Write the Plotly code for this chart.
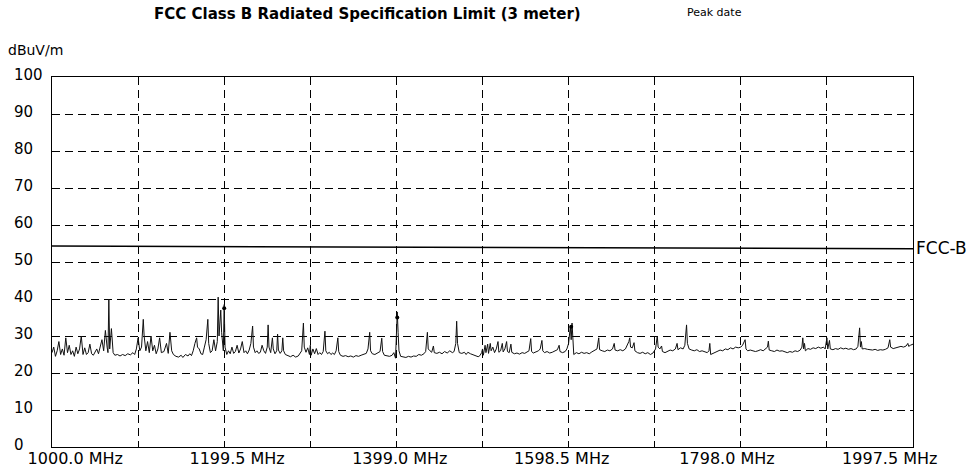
import plotly.graph_objects as go

# ---- data ----
freq_mhz = [
    1000, 1002, 1004, 1006, 1008, 1010, 1012, 1014, 1016, 1018,
    1020, 1022, 1024, 1026, 1028, 1030, 1032, 1034, 1036, 1038,
    1040, 1042, 1044, 1046, 1048, 1050, 1052, 1054, 1056, 1058,
    1060, 1062, 1064, 1065, 1066, 1067, 1069, 1071, 1073, 1076,
    1079, 1082, 1085, 1088, 1091, 1094, 1096, 1098, 1100, 1102,
    1104, 1106, 1107, 1109, 1111, 1113, 1115, 1117, 1119, 1121,
    1123, 1125, 1127, 1130, 1133, 1135, 1137, 1139, 1141, 1144,
    1147, 1150, 1152, 1155, 1158, 1160, 1162, 1164, 1166, 1168,
    1169, 1171, 1173, 1175, 1177, 1179, 1181, 1182, 1184, 1186,
    1188, 1190, 1192, 1193, 1194, 1196, 1197, 1199, 1200, 1201,
    1203, 1205, 1207, 1209, 1211, 1213, 1215, 1217, 1219, 1221,
    1223, 1225, 1227, 1229, 1231, 1233, 1234, 1236, 1238, 1240,
    1242, 1244, 1246, 1248, 1250, 1251, 1252, 1254, 1256, 1257,
    1259, 1261, 1262, 1263, 1265, 1267, 1268, 1269, 1271, 1274,
    1277, 1280, 1283, 1286, 1288, 1290, 1292, 1293, 1295, 1297,
    1299, 1300, 1301, 1303, 1305, 1307, 1309, 1311, 1313, 1315,
    1317, 1318, 1320, 1322, 1324, 1326, 1328, 1330, 1332, 1333,
    1335, 1338, 1341, 1344, 1347, 1350, 1353, 1356, 1359, 1362,
    1365, 1367, 1369, 1370, 1372, 1375, 1378, 1381, 1383, 1384,
    1386, 1389, 1392, 1395, 1397, 1399, 1400, 1401, 1402, 1403,
    1405, 1408, 1411, 1414, 1417, 1420, 1423, 1426, 1429, 1432,
    1434, 1436, 1437, 1439, 1441, 1443, 1444, 1447, 1450, 1453,
    1456, 1459, 1462, 1465, 1467, 1469, 1470, 1471, 1473, 1476,
    1479, 1481, 1483, 1486, 1489, 1492, 1495, 1497, 1499, 1500,
    1501, 1503, 1504, 1506, 1507, 1509, 1510, 1512, 1514, 1516,
    1518, 1519, 1521, 1523, 1524, 1526, 1528, 1529, 1531, 1533,
    1534, 1537, 1540, 1543, 1546, 1549, 1552, 1554, 1556, 1557,
    1559, 1562, 1565, 1567, 1569, 1570, 1572, 1575, 1578, 1581,
    1584, 1587, 1589, 1590, 1593, 1596, 1598, 1600, 1602, 1603,
    1604, 1605, 1606, 1609, 1612, 1615, 1618, 1621, 1624, 1627,
    1630, 1633, 1635, 1636, 1639, 1642, 1645, 1648, 1651, 1653,
    1654, 1657, 1660, 1663, 1666, 1668, 1670, 1671, 1672, 1674,
    1676, 1677, 1680, 1683, 1686, 1689, 1692, 1695, 1698, 1701,
    1703, 1704, 1706, 1708, 1709, 1712, 1715, 1718, 1721, 1724,
    1726, 1727, 1730, 1733, 1735, 1737, 1738, 1740, 1743, 1746,
    1749, 1752, 1755, 1758, 1761, 1763, 1764, 1765, 1767, 1770,
    1773, 1776, 1779, 1782, 1785, 1788, 1791, 1794, 1797, 1800,
    1802, 1804, 1805, 1806, 1808, 1811, 1814, 1817, 1820, 1823,
    1826, 1829, 1831, 1832, 1833, 1836, 1839, 1842, 1845, 1848,
    1851, 1854, 1857, 1860, 1863, 1866, 1869, 1871, 1872, 1873,
    1874, 1875, 1878, 1881, 1884, 1887, 1890, 1893, 1896, 1898,
    1900, 1901, 1903, 1904, 1907, 1910, 1913, 1916, 1919, 1922,
    1925, 1928, 1931, 1934, 1936, 1938, 1939, 1940, 1941, 1944,
    1947, 1950, 1953, 1956, 1959, 1962, 1965, 1968, 1971, 1973,
    1974, 1977, 1980, 1983, 1986, 1989, 1992, 1994, 1995, 1997,
    2000,
]

level_dbuv = [
    25.5, 27, 24.5, 26, 28.5, 25, 26.5, 24.8, 29.5, 25.5,
    27.5, 25, 26, 24.5, 27, 25.2, 26.5, 30, 25, 26.8,
    25, 25.5, 27.8, 25.2, 24.8, 25.5, 26.5, 25.2, 27.5, 29,
    26, 31.5, 27, 25.5, 40, 26.5, 32, 25.5, 24.8, 25,
    24.6, 25, 24.7, 25.2, 24.9, 25.5, 25, 26.5, 29.5, 26,
    27, 34.5, 30, 26, 28.5, 25.5, 30, 26, 27.5, 25.2,
    26.5, 29.5, 25.5, 25.8, 28, 25.3, 31, 26, 25, 24.5,
    24.3, 24.8, 24.2, 25, 24.6, 25.2, 24.7, 26, 28, 29.5,
    27, 26.5, 25.2, 25, 27, 29, 34.5, 28, 25.5, 26,
    29, 26, 28.5, 40.5, 30, 37, 31, 26, 38.5, 27,
    25, 26, 25.2, 27, 25.3, 25.8, 27.5, 25.4, 26.5, 28.5,
    25.5, 26, 25.2, 26.2, 28, 32.7, 27, 25.5, 26, 25.3,
    25.6, 27.5, 26, 25.3, 27, 33, 27, 25.5, 29.5, 26.5,
    25.2, 26, 30.5, 26.2, 25.3, 26, 29.5, 26, 25, 24.6,
    24.4, 24.8, 24.3, 24.6, 25.5, 26, 33.5, 27, 25.6, 26.8,
    25, 27.5, 24.8, 26.5, 25.2, 26.6, 25, 25.5, 25, 25.8,
    31.3, 26, 25.2, 25.6, 25, 25.4, 25, 26, 29.5, 25.8,
    24.8, 24.5, 24.7, 24.4, 24.6, 24.3, 24.7, 24.5, 24.8, 25,
    25.3, 26.5, 31, 26, 25.2, 25, 25.4, 25.8, 29.4, 25.8,
    24.8, 24.6, 24.5, 24.8, 25.5, 24, 30, 36.5, 31, 26,
    24.5, 24.3, 24.2, 24.5, 24.3, 24.6, 24.5, 25, 24.8, 25.2,
    25.8, 31, 26.5, 26, 25.6, 27.3, 25.5, 25.3, 25.6, 25.2,
    25.8, 25.4, 26, 25.5, 25.8, 28, 34, 28, 25.5, 25.3,
    25.6, 25, 25.6, 25.2, 25, 24.6, 24.4, 24.7, 25.5, 26.5,
    24.8, 27.5, 25.5, 27.8, 25.3, 28, 26, 27, 25.5, 26.5,
    28.5, 25.6, 26, 28, 25.7, 26.5, 28.5, 25.8, 25.5, 27.8,
    25.6, 25.2, 25.4, 25.1, 25.5, 25.3, 25.7, 26, 29.3, 25.8,
    25.4, 25.6, 26, 26.5, 28.8, 26, 25.5, 25.8, 25.4, 25.6,
    25.9, 26.3, 27.5, 25.8, 25.5, 25.8, 26.5, 28, 32.5, 29,
    33.5, 27, 25, 25.5, 25.2, 25.6, 25.3, 25.5, 25.2, 25.7,
    26, 26.5, 29.5, 26.3, 26, 25.8, 26.2, 26, 26.5, 28,
    26.2, 26, 26.3, 26, 26.5, 27.5, 28.5, 29.5, 27, 26.8,
    28.2, 26, 25.5, 25.3, 25.6, 25.2, 25.5, 25, 25.4, 26.5,
    30, 27, 26.5, 27.3, 25.8, 25.5, 25.8, 26.2, 26, 26.5,
    28, 26.3, 26.8, 26.5, 27.5, 33, 28, 26.5, 26.2, 26,
    26.3, 25.8, 26, 25.7, 25.5, 26, 28, 25, 25.2, 25.5,
    25.8, 26.2, 26, 26.5, 26.3, 26.8, 26.5, 27, 26.8, 27,
    27.5, 28.5, 29, 26.5, 26, 26.2, 26, 25.8, 26, 26.3,
    26, 26.5, 27, 28.6, 26.2, 26, 25.8, 26.2, 25.9, 26,
    25.7, 25.5, 25.8, 25.6, 26, 25.8, 26.2, 27, 29.5, 26.5,
    28, 26, 26.6, 26.4, 26.8, 26.6, 27, 26.7, 27, 26.5,
    29.5, 26.5, 28.8, 26.5, 26.3, 26.6, 26.4, 26.8, 26.5, 26.7,
    26.4, 26.6, 26.3, 26.5, 27.2, 32.2, 27, 28.5, 26.5, 26.6,
    26.4, 26.3, 26.2, 26.4, 26.1, 26.3, 26.2, 26.4, 26.8, 29,
    27, 26.6, 26.8, 27, 27.2, 27, 27.3, 28, 27.2, 27.5,
    27.8,
]

# peak markers (thick dots on three spikes)
marker_freq = [1200, 1401, 1603]
marker_level = [37.5, 35, 32.5]

# FCC Class B limit line (slight tilt as drawn)
limit_freq = [1000, 2000]
limit_level = [54.3, 53.6]

# grid / axes
x_grid_ticks = [1000, 1100, 1200, 1300, 1400, 1500, 1600, 1700, 1800, 1900, 2000]
y_ticks = [0, 10, 20, 30, 40, 50, 60, 70, 80, 90, 100]
y_tick_text = ["0", "10", "20", "30", "40", "50", "60", "70", "80", "90", "100"]
x_label_text = ["1000.0 MHz", "1199.5 MHz", "1399.0 MHz", "1598.5 MHz", "1798.0 MHz", "1997.5 MHz"]
x_label_at = [1027, 1215, 1404, 1592, 1784, 1973]

FONT = "DejaVu Sans"

fig = go.Figure()

fig.add_trace(go.Scatter(
    x=freq_mhz, y=level_dbuv, mode="lines",
    line=dict(color="#111111", width=1), showlegend=False, hoverinfo="x+y"))

fig.add_trace(go.Scatter(
    x=marker_freq, y=marker_level, mode="markers",
    marker=dict(color="black", size=4), showlegend=False))

fig.add_trace(go.Scatter(
    x=limit_freq, y=limit_level, mode="lines", xaxis="x2",
    line=dict(color="black", width=1.5), showlegend=False))

grid_common = dict(showgrid=True, gridcolor="black", gridwidth=1.3, griddash="8px,5px",
                   showline=True, linecolor="black", linewidth=1.3, mirror=True,
                   zeroline=False, ticks="", automargin=False)

# y tick labels are left-aligned in the reference -> annotations anchored on the y scale
y_label_annots = [
    dict(text=t, xref="paper", yref="y", x=-0.0465, y=v, xanchor="left", yanchor="middle",
         yshift=2, showarrow=False, font=dict(family=FONT, size=15, color="black"))
    for v, t in zip(y_ticks, y_tick_text)
]

fig.update_layout(
    width=973, height=475,
    margin=dict(l=52, r=60, t=77, b=28, pad=0, autoexpand=False),
    paper_bgcolor="white", plot_bgcolor="white",
    font=dict(family=FONT, color="black"),
    xaxis=dict(range=[1000, 2000], tickvals=x_grid_ticks, showticklabels=False, **grid_common),
    xaxis2=dict(range=[1000, 2000], overlaying="x", anchor="y", side="bottom",
                tickvals=x_label_at, ticktext=x_label_text, showgrid=False,
                showline=False, zeroline=False, ticks="", automargin=False,
                tickfont=dict(family=FONT, size=16, color="black")),
    yaxis=dict(range=[0, 100], tickvals=y_ticks, showticklabels=False, **grid_common),
    annotations=y_label_annots + [
        dict(text="<b>FCC Class B Radiated Specification Limit (3 meter)</b>",
             xref="paper", yref="paper", x=0.367, y=1.170, xanchor="center", yanchor="middle",
             showarrow=False, font=dict(family=FONT, size=15, color="black")),
        dict(text="Peak date", xref="paper", yref="paper", x=0.769, y=1.173,
             xanchor="center", yanchor="middle", showarrow=False,
             font=dict(family=FONT, size=11, color="black")),
        dict(text="dBuV/m", xref="paper", yref="paper", x=-0.053, y=1.073,
             xanchor="left", yanchor="middle", showarrow=False,
             font=dict(family=FONT, size=14, color="black")),
        dict(text="FCC-B", xref="paper", yref="y", x=1.0, y=53.8,
             xanchor="left", yanchor="middle", showarrow=False, xshift=1,
             font=dict(family=FONT, size=17, color="black")),
    ],
)

# remove the browser's default 8px page margin so the figure sits at the window origin
fig.write_html("out.html", config={"displayModeBar": False},
               post_script="document.body.style.margin='0px';")
